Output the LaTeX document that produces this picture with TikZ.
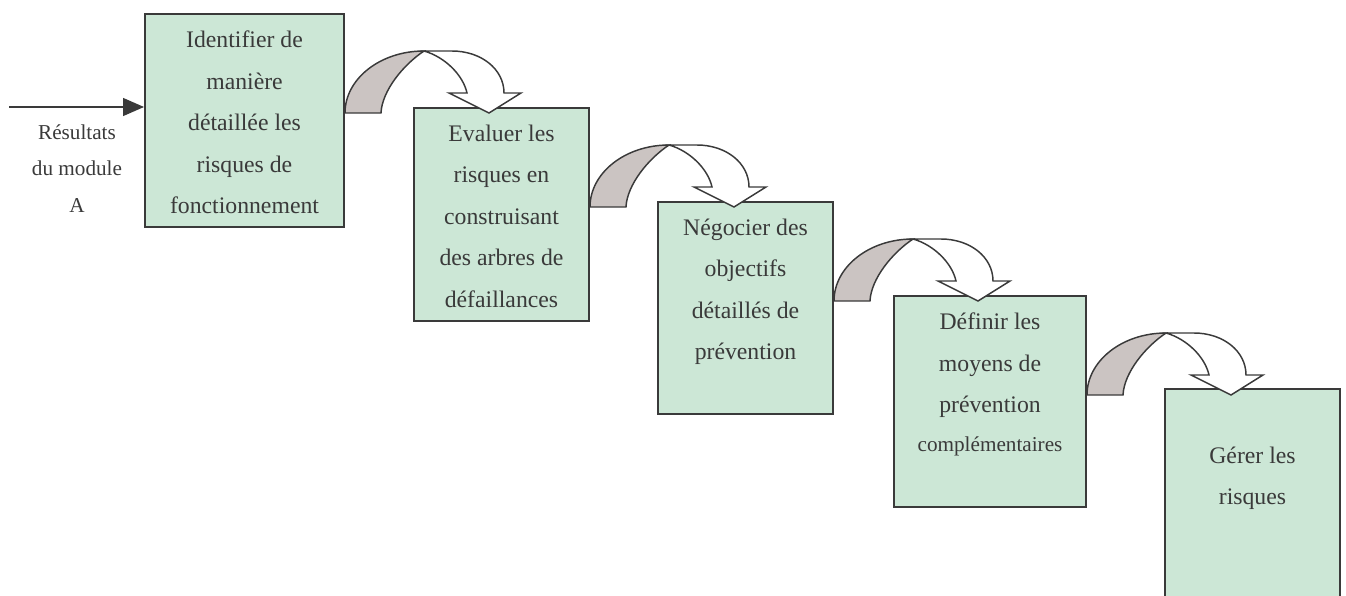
\documentclass[tikz,border=0pt]{standalone}
\usepackage{fontspec}
\setmainfont{Liberation Serif}
\usepackage{tikz}
\usetikzlibrary{arrows.meta, positioning}

\definecolor{boxgreen}{RGB}{204,231,214}
\definecolor{backgrey}{RGB}{203,196,194}
\definecolor{inkgrey}{RGB}{58,58,58}

% bent arrow leaving the right side of a box, #1 = name of that box
\newcommand{\turnarrow}[1]{%
  \begin{scope}[shift={(#1.north east)}, yshift=-75pt, draw=inkgrey, line width=1.1pt]
    \filldraw[fill=backgrey] (0,0) .. controls (0,-34) and (35,-62) .. (79,-62)
      .. controls (58,-48) and (37,-22) .. (36,0) -- cycle;
    \filldraw[fill=white] (79,-62) -- (107,-62) .. controls (136,-62) and (159,-44) .. (159,-20)
      -- (176,-20) -- (144,0) -- (104,-20) -- (122,-20)
      .. controls (118,-38) and (100,-56) .. (79,-62) -- cycle;
  \end{scope}}

\begin{document}
\begin{tikzpicture}[
  x=0.75pt, y=-0.75pt, % one unit = one pixel of the original, y going down
  stage/.style={draw=inkgrey, fill=boxgreen, line width=1.5pt, anchor=north west, inner sep=0pt},
  txt/.style={align=center, inner sep=0pt, text=inkgrey, font=\fontsize{17.8}{31.1}\selectfont},
  lbl/.style={align=center, inner sep=0pt, text=inkgrey, font=\fontsize{15.9}{27.4}\selectfont},
  inarrow/.style={draw=inkgrey, line width=1pt, -{Triangle[length=15.75pt, width=13.5pt]}}]

  \useasboundingbox (0,0) rectangle (1346,596);
  \clip (0,0) rectangle (1346,596);

  % the five steps
  \node[stage, minimum width=149.25pt, minimum height=159.75pt] (b1) at (144,13) {};
  \node[stage, minimum width=131.25pt, minimum height=159.75pt] (b2) at (413,107) {};
  \node[stage, minimum width=131.25pt, minimum height=159pt] (b3) at (657,201) {};
  \node[stage, minimum width=144pt, minimum height=158.25pt] (b4) at (893,295) {};
  \node[stage, minimum width=131.25pt, minimum height=190pt] (b5) at (1164,388) {};

  \node[txt, below=13.3pt of b1.north] (t1) {Identifier de\\manière\\détaillée les\\risques de\\fonctionnement};
  \node[txt, below=13.3pt of b2.north] (t2) {Evaluer les\\risques en\\construisant\\des arbres de\\défaillances};
  \node[txt, below=13.3pt of b3.north] (t3) {Négocier des\\objectifs\\détaillés de\\prévention};
  \node[txt, below=13.3pt of b4.north] (t4) {Définir les\\moyens de\\prévention\\[-2pt]{\fontsize{15.9}{28}\selectfont complémentaires}};
  \node[txt, below=44pt of b5.north] (t5) {Gérer les\\risques};

  % input
  \coordinate (in) at (9,107);
  \draw[inarrow] (in) -- (in -| b1.west);
  \node[lbl, anchor=north] (res) at (77,124) {Résultats\\du module\\A};

  % bent arrows from one step to the next
  \turnarrow{b1}
  \turnarrow{b2}
  \turnarrow{b3}
  \turnarrow{b4}
\end{tikzpicture}
\end{document}
